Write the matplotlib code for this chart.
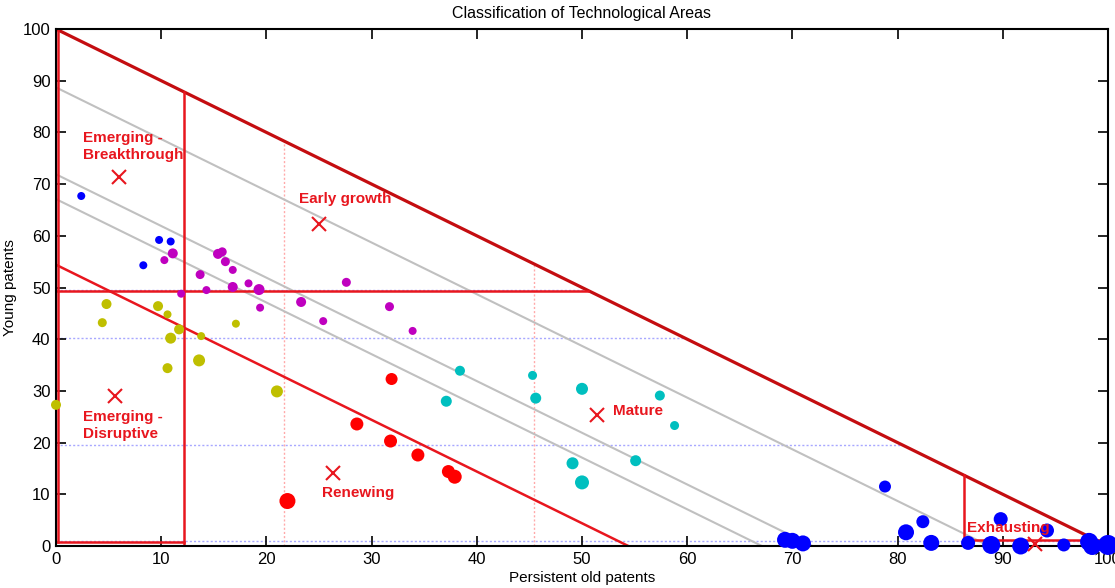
import matplotlib
matplotlib.use("Agg")
import matplotlib.pyplot as plt
import numpy as np

plt.rcParams['font.family'] = ['Liberation Sans', 'DejaVu Sans']

# ---- data ----
blue_x = [2.4, 9.8, 10.9, 8.3, 78.8, 80.8, 82.4, 83.2, 69.3, 70.0, 71.0, 86.7, 88.9, 89.8, 91.7, 94.2, 95.8, 98.2, 98.5, 100.0]
blue_y = [67.7, 59.2, 58.9, 54.3, 11.5, 2.65, 4.7, 0.6, 1.2, 1.0, 0.5, 0.6, 0.2, 5.2, 0.0, 3.0, 0.2, 0.8, 0.0, 0.2]
blue_d = [8, 8, 8, 8, 12, 16, 13, 16, 16, 16, 16, 14, 18, 14, 17, 14, 13, 18, 18, 20]

mag_x = [10.3, 11.1, 11.9, 13.7, 14.3, 15.4, 15.8, 16.1, 16.8, 16.8, 18.3, 19.3, 19.4, 23.3, 25.4, 27.6, 31.7, 33.9]
mag_y = [55.3, 56.6, 48.8, 52.5, 49.5, 56.5, 56.9, 55.0, 53.4, 50.1, 50.8, 49.6, 46.1, 47.2, 43.5, 51.0, 46.3, 41.6]
mag_d = [8, 10, 8, 9, 8, 10, 9, 9, 8, 10, 8, 11, 8, 10, 8, 9, 9, 8]

olive_x = [0.0, 4.8, 4.4, 9.7, 10.6, 11.7, 10.9, 13.8, 17.1, 13.6, 10.6, 21.0]
olive_y = [27.3, 46.8, 43.2, 46.4, 44.8, 41.9, 40.2, 40.6, 43.0, 35.9, 34.4, 29.9]
olive_d = [10, 10, 9, 10, 8, 10, 11, 8, 8, 12, 10, 12]

red_x = [22.0, 28.6, 31.9, 31.8, 34.4, 37.3, 37.9]
red_y = [8.7, 23.6, 32.3, 20.3, 17.6, 14.4, 13.4]
red_d = [16, 13, 12, 13, 13, 13, 14]

cyan_x = [38.4, 37.1, 45.3, 45.6, 50.0, 57.4, 58.8, 49.1, 50.0, 55.1]
cyan_y = [33.9, 28.0, 33.0, 28.6, 30.4, 29.1, 23.3, 16.0, 12.3, 16.5]
cyan_d = [10, 11, 9, 11, 12, 10, 9, 12, 14, 11]

region_names = ["Emerging -\nBreakthrough", "Early growth", "Emerging -\nDisruptive", "Renewing", "Mature", "Exhausting"]
region_cx = [6.0, 25.0, 5.6, 26.3, 51.4, 93.1]
region_cy = [71.3, 62.2, 29.0, 14.2, 25.3, 0.4]
label_x = [2.6, 23.1, 2.6, 25.3, 52.9, 86.6]
label_y = [77.3, 67.2, 23.3, 10.3, 26.2, 3.5]

# boundary parameters
upper_total = 100.0
lower_total = 54.4
gray_totals = [88.7, 71.9, 67.1]
young_split = 49.4
old_split = 12.2
exhaust_x = 86.3
blue_dot_y = [49.6, 40.3, 19.6, 1.0]
pink_dot_x = [21.7, 45.4]

# ---- figure ----
dpi = 100
fig = plt.figure(figsize=(11.15, 5.88), dpi=dpi)
ax = fig.add_axes([56/1115, 42/588, (1108-56)/1115, (546-29)/588])

def d2s(d):
    return (np.array(d) * 72.0 / dpi) ** 2

RED = '#e8161e'
DRED = '#c40d10'

# dotted guides
for yv in blue_dot_y:
    ax.plot([0, upper_total - yv], [yv, yv], color='#a8a8ff', lw=1.0, ls=(0, (1.5, 1.5)), zorder=1)
for xv in pink_dot_x:
    ax.plot([xv, xv], [0, upper_total - xv], color='#ffaaaa', lw=1.0, ls=(0, (1.5, 1.5)), zorder=1)

# gray iso-lines
for t in gray_totals:
    ax.plot([0, t], [t, 0], color='#c0c0c0', lw=1.5, zorder=1)

# red region boundaries
ax.plot([0, upper_total], [upper_total, 0], color=DRED, lw=2.3, zorder=2)
ax.plot([0, lower_total], [lower_total, 0], color=RED, lw=1.8, zorder=2)
ax.plot([0.2, 0.2], [0.8, 100], color=RED, lw=1.8, zorder=2)
ax.plot([0, old_split], [0.8, 0.8], color=RED, lw=1.8, zorder=2)
ax.plot([old_split, old_split], [0, upper_total - old_split], color=RED, lw=1.8, zorder=2)
ax.plot([0, upper_total - young_split], [young_split, young_split], color=RED, lw=1.8, zorder=2)
ax.plot([old_split, 100], [0.05, 0.05], color=RED, lw=2.0, zorder=2)
ax.plot([exhaust_x, exhaust_x], [0, upper_total - exhaust_x], color=RED, lw=1.8, zorder=2)
ax.plot([exhaust_x, 100], [1.1, 1.1], color=RED, lw=1.8, zorder=2)

# scatter groups
ax.scatter(blue_x, blue_y, s=d2s(blue_d), color='#0000ff', zorder=3, linewidths=0, clip_on=False)
ax.scatter(mag_x, mag_y, s=d2s(mag_d), color='#bf00bf', zorder=3, linewidths=0)
ax.scatter(olive_x, olive_y, s=d2s(olive_d), color='#bfbf00', zorder=3, linewidths=0, clip_on=False)
ax.scatter(red_x, red_y, s=d2s(red_d), color='#ff0000', zorder=3, linewidths=0)
ax.scatter(cyan_x, cyan_y, s=d2s(cyan_d), color='#00bfbf', zorder=3, linewidths=0)

# region centers and labels
ax.plot(region_cx, region_cy, 'x', color=RED, ms=10, mew=1.5, zorder=4, clip_on=False)
for name, lx, ly in zip(region_names, label_x, label_y):
    ax.text(lx, ly, name, color=RED, fontsize=11, fontweight='bold', ha='left', va='center',
            linespacing=1.3, zorder=5)

ax.set_xlim(0, 100)
ax.set_ylim(0, 100)
ax.set_xticks(np.arange(0, 101, 10))
ax.set_yticks(np.arange(0, 101, 10))
ax.tick_params(direction='in', length=7, width=1.2, top=True, right=True, labelsize=12, pad=4)
for sp in ax.spines.values():
    sp.set_linewidth(1.5)
ax.set_xlabel('Persistent old patents', fontsize=11, labelpad=3)
ax.set_ylabel('Young patents', fontsize=11, labelpad=4)
ax.set_title('Classification of Technological Areas', fontsize=11.5, pad=8)

fig.savefig('out.png', dpi=dpi)
